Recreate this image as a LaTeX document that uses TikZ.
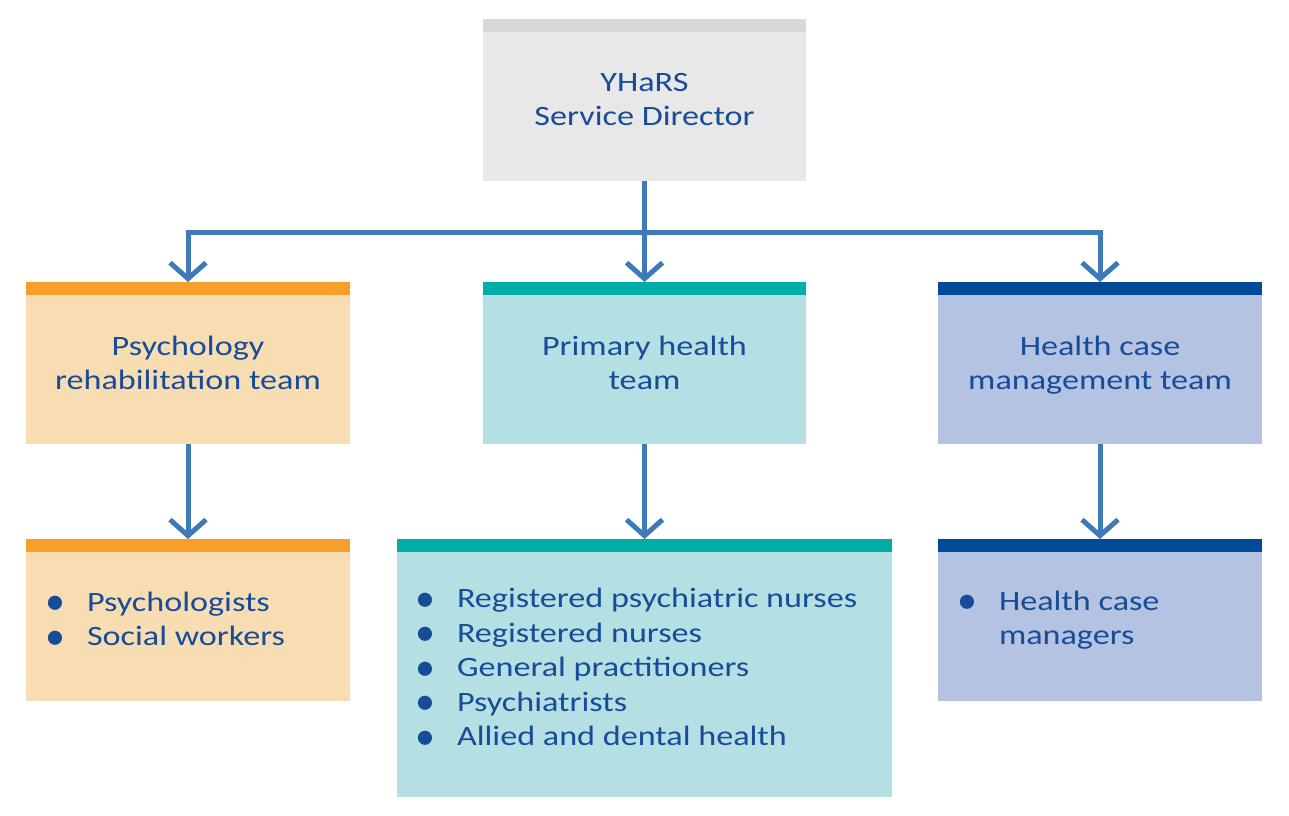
\documentclass[tikz,border=0pt]{standalone}
\usepackage{fontspec}
\setmainfont{Carlito}[FakeStretch=1.22]
\newfontfamily\bulfont{Carlito}
\usetikzlibrary{arrows.meta}
\definecolor{txt}{RGB}{22,76,152}
\definecolor{conn}{RGB}{62,122,184}
\definecolor{grayfill}{RGB}{232,232,232}
\definecolor{graystrip}{RGB}{216,216,216}
\definecolor{orfill}{RGB}{248,221,179}
\definecolor{orstrip}{RGB}{247,159,42}
\definecolor{tlfill}{RGB}{180,224,227}
\definecolor{tlstrip}{RGB}{0,173,169}
\definecolor{blfill}{RGB}{179,195,225}
\definecolor{blstrip}{RGB}{0,74,152}
\tikzset{
  box/.style={draw=none, inner sep=0pt, outer sep=0pt, anchor=north west,
    text=txt, font=\fontsize{28}{34}\selectfont, align=center},
  listtext/.style={inner sep=0pt, outer sep=0pt, anchor=west, text=txt,
    font=\fontsize{28}{34.5}\selectfont, align=left},
  conline/.style={draw=conn, line width=5pt},
  conarrow/.style={conline, -{Straight Barb[length=16pt,width=36pt,line width=5pt]}},
}
\newcommand{\bul}{\makebox[42pt][l]{\smash{\raisebox{-3.5pt}{\bulfont\fontsize{40}{40}\selectfont\textbullet}}}}
\begin{document}
\begin{tikzpicture}[x=1pt,y=-1pt]
\useasboundingbox (0,0) rectangle (1289,815);
% boxes
\node[box, fill=grayfill, minimum width=323pt, minimum height=162pt] (dir) at (483,19) {};
\node[box, fill=orfill, minimum width=324pt, minimum height=162pt] (psy) at (26,282) {};
\node[box, fill=tlfill, minimum width=323pt, minimum height=162pt] (pri) at (483,282) {};
\node[box, fill=blfill, minimum width=324pt, minimum height=162pt] (hcm) at (938,282) {};
\node[box, fill=orfill, minimum width=324pt, minimum height=162pt] (psyl) at (26,539) {};
\node[box, fill=tlfill, minimum width=495pt, minimum height=258pt] (pril) at (397,539) {};
\node[box, fill=blfill, minimum width=324pt, minimum height=162pt] (hcml) at (938,539) {};
% strips
\fill[graystrip] (dir.north west) rectangle ([yshift=-13pt]dir.north east);
\fill[orstrip] (psy.north west) rectangle ([yshift=-13pt]psy.north east);
\fill[tlstrip] (pri.north west) rectangle ([yshift=-13pt]pri.north east);
\fill[blstrip] (hcm.north west) rectangle ([yshift=-13pt]hcm.north east);
\fill[orstrip] (psyl.north west) rectangle ([yshift=-13pt]psyl.north east);
\fill[tlstrip] (pril.north west) rectangle ([yshift=-13pt]pril.north east);
\fill[blstrip] (hcml.north west) rectangle ([yshift=-13pt]hcml.north east);
% titles
\node[box, anchor=center] (dirt) at (644.5,100) {YHaRS\\Service Director};
\node[box, anchor=center] (psyt) at (188,363) {Psychology\\rehabilitation team};
\node[box, anchor=center] (prit) at (644.5,363) {Primary health\\team};
\node[box, anchor=center] (hcmt) at (1100,365) {Health case\\management team};
% lists
\node[listtext] (psyx) at (45,619) {\bul Psychologists\\\bul Social workers};
\node[listtext] (prix) at (415,667) {\bul Registered psychiatric nurses\\\bul Registered nurses\\\bul General practitioners\\\bul Psychiatrists\\\bul Allied and dental health};
\node[listtext] (hcmx) at (957,620) {\bul Health case\\\makebox[42pt]{}managers};
% connectors
\coordinate (j) at (644.5,232);
\coordinate (jl) at (188,232);
\coordinate (jr) at (1100,232);
\draw[conline] (dir.south) -- (j);
\draw[conline, line cap=rect] (jl) -- (jr);
\draw[conarrow] (jl) -- (psy.north);
\draw[conarrow] (j) -- (pri.north);
\draw[conarrow] (jr) -- (hcm.north);
\draw[conarrow] (psy.south) -- (psyl.north);
\draw[conarrow] (pri.south) -- (pril.north -| pri.south);
\draw[conarrow] (hcm.south) -- (hcml.north);
\end{tikzpicture}
\end{document}
